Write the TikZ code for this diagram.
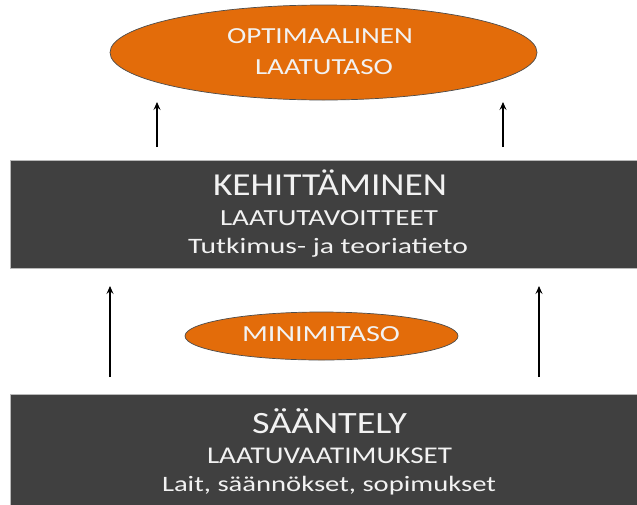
\documentclass[tikz,border=0pt]{standalone}
\usepackage{fontspec}
\usepackage{graphicx}
\setmainfont{Carlito}
\usetikzlibrary{shapes.geometric,arrows.meta}
\definecolor{darkbox}{HTML}{404040}
\definecolor{orangefill}{HTML}{E36C0A}
\definecolor{lighttext}{HTML}{F2F2F2}
\newsavebox\fitbox
% \fitw{target width in pt}{font size}{text}
\newcommand\fitw[3]{{\fontsize{#2}{#2}\selectfont\sbox\fitbox{#3}%
  \pgfmathsetmacro\fitfac{#1/\the\wd\fitbox}\scalebox{\fitfac}[1]{\usebox\fitbox}}}
\begin{document}
\begin{tikzpicture}[x=1pt,y=1pt,
  darkpanel/.style={fill=darkbox,draw=gray!55,line width=0.6pt},
  orangeell/.style={ellipse,fill=orangefill,draw=black!70,line width=0.7pt,inner sep=0pt},
  lbl/.style={text=lighttext,inner sep=0pt,anchor=base},
  uparrow/.style={-{Stealth[length=8pt,width=7pt,inset=3pt]},line width=1.1pt,black}]
\useasboundingbox (0,0) rectangle (637,-504);
% top ellipse
\node[orangeell,minimum width=427pt,minimum height=95pt] (opt) at (323.5,-52.5) {};
\node[lbl] (opt1) at (320,-43.5) {\fitw{186}{23}{OPTIMAALINEN}};
\node[lbl] (opt2) at (324,-74.5) {\fitw{138}{23}{LAATUTASO}};
% development box
\draw[darkpanel] (10.5,-160) rectangle (645,-268);
\node[lbl] (keh) at (330,-195) {\fitw{234}{32}{KEHITTÄMINEN}};
\node[lbl] (kehA) at (329,-225) {\fitw{218}{23}{LAATUTAVOITTEET}};
\node[lbl] (kehB) at (328,-253) {\fitw{280}{22}{Tutkimus- ja teoriatieto}};
% minimum ellipse
\node[orangeell,minimum width=273pt,minimum height=48pt] (min) at (321.5,-336) {};
\node[lbl] (minl) at (321,-341.5) {\fitw{158}{23}{MINIMITASO}};
% regulation box
\draw[darkpanel] (10.5,-394) rectangle (645,-510);
\node[lbl] (saa) at (329.5,-433) {\fitw{155}{31}{SÄÄNTELY}};
\node[lbl] (saaA) at (329.5,-463) {\fitw{245}{24}{LAATUVAATIMUKSET}};
\node[lbl] (saaB) at (329,-491) {\fitw{334}{22}{Lait, säännökset, sopimukset}};
% arrows
\coordinate (a1s) at (157,-147);
\coordinate (a1e) at (157,-102);
\coordinate (a2s) at (503,-147);
\coordinate (a2e) at (503,-102);
\coordinate (b1s) at (110,-377);
\coordinate (b1e) at (110,-286);
\coordinate (b2s) at (539,-377);
\coordinate (b2e) at (539,-286);
\draw[uparrow] (a1s) -- (a1e);
\draw[uparrow] (a2s) -- (a2e);
\draw[uparrow] (b1s) -- (b1e);
\draw[uparrow] (b2s) -- (b2e);
\end{tikzpicture}
\end{document}
